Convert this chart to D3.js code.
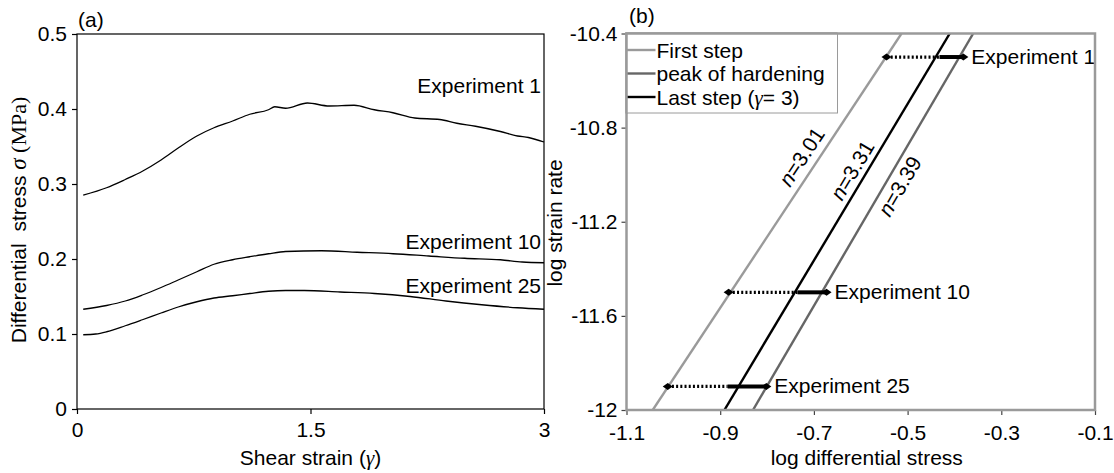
<!DOCTYPE html>
<html>
<head>
<meta charset="utf-8">
<script src="https://cdn.jsdelivr.net/npm/d3@7"></script>
<style>
  body { margin: 0; background: #fff; }
  text { font-family: 'Liberation Sans', Arial, sans-serif; }
</style>
</head>
<body>
<div class="chart"></div>
<script>
// (a) stress-strain curves
var exp1Strain = [0.04, 0.19, 0.31, 0.42, 0.54, 0.65, 0.77, 0.88, 1.0, 1.11, 1.23, 1.27, 1.34, 1.48, 1.62, 1.78, 1.91, 2.03, 2.17, 2.33, 2.44, 2.56, 2.72, 2.83, 2.9, 3.0]
var exp1Stress = [0.285, 0.295, 0.306, 0.317, 0.332, 0.348, 0.364, 0.375, 0.384, 0.393, 0.399, 0.403, 0.401, 0.408, 0.404, 0.405, 0.399, 0.395, 0.388, 0.386, 0.381, 0.377, 0.370, 0.364, 0.362, 0.356]
var exp10Strain = [0.04, 0.19, 0.31, 0.42, 0.54, 0.65, 0.77, 0.88, 1.0, 1.11, 1.23, 1.34, 1.57, 1.8, 2.03, 2.26, 2.49, 2.72, 2.86, 3.0]
var exp10Stress = [0.133, 0.138, 0.144, 0.152, 0.162, 0.172, 0.183, 0.193, 0.199, 0.203, 0.207, 0.21, 0.211, 0.209, 0.207, 0.204, 0.201, 0.199, 0.196, 0.195]
var exp25Strain = [0.04, 0.12, 0.19, 0.31, 0.42, 0.54, 0.65, 0.77, 0.88, 1.0, 1.11, 1.23, 1.34, 1.46, 1.69, 1.91, 2.14, 2.37, 2.6, 2.83, 3.0]
var exp25Stress = [0.099, 0.1, 0.103, 0.111, 0.119, 0.128, 0.136, 0.143, 0.148, 0.151, 0.154, 0.157, 0.158, 0.158, 0.156, 0.154, 0.15, 0.144, 0.139, 0.135, 0.133]
var expLabels = ['Experiment 1', 'Experiment 10', 'Experiment 25']
var strainTicks = [0, 1.5, 3]
var strainTickLabels = ['0', '1.5', '3']
var stressTicks = [0, 0.1, 0.2, 0.3, 0.4, 0.5]
var stressTickLabels = ['0', '0.1', '0.2', '0.3', '0.4', '0.5']

// (b) log strain rate vs log stress
var fitNames = ['First step', 'peak of hardening', 'Last step']
var fitN = ['3.01', '3.39', '3.31']
var fitStressTop = [-0.513, -0.360, -0.410]    // log stress at rate -10.4
var fitStressBottom = [-1.044, -0.830, -0.891] // log stress at rate -12
var expRate = [-10.5, -11.5, -11.9]
var expFirst = [-0.545, -0.882, -1.012]
var expLast = [-0.432, -0.735, -0.884]
var expPeak = [-0.381, -0.673, -0.8015]
var logStressTicks = [-1.1, -0.9, -0.7, -0.5, -0.3, -0.1]
var logStressTickLabels = ['-1.1', '-0.9', '-0.7', '-0.5', '-0.3', '-0.1']
var rateTicks = [-12, -11.6, -11.2, -10.8, -10.4]
var rateTickLabels = ['-12', '-11.6', '-11.2', '-10.8', '-10.4']

var fs = 21
var svg = d3
  .select('.chart')
  .append('svg')
  .attr('width', 1114)
  .attr('height', 473)
  .style('display', 'block')

// ---------- panel (a) ----------
var xA = d3.scaleLinear().domain([0, 3]).range([77, 544])
var yA = d3.scaleLinear().domain([0, 0.5]).range([409, 34])

svg
  .append('rect')
  .attr('x', xA(0))
  .attr('y', yA(0.5))
  .attr('width', xA(3) - xA(0))
  .attr('height', yA(0) - yA(0.5))
  .style('fill', 'none')
  .style('stroke', '#000')
  .style('stroke-width', 1.2)

var axA = svg
  .append('g')
  .attr('transform', 'translate(' + xA(0) + ',0)')
  .call(
    d3.axisLeft(yA)
      .tickValues(stressTicks)
      .tickSize(5)
      .tickPadding(5)
      .tickFormat(function(d, i) { return stressTickLabels[i] })
  )
var axB = svg
  .append('g')
  .attr('transform', 'translate(0,' + yA(0) + ')')
  .call(
    d3.axisBottom(xA)
      .tickValues(strainTicks)
      .tickSize(5)
      .tickPadding(8)
      .tickFormat(function(d, i) { return strainTickLabels[i] })
  )
;[axA, axB].forEach(function(ax) {
  ax.select('.domain').remove()
  ax.selectAll('line').style('stroke', '#000').style('stroke-width', 1.2)
  ax.selectAll('text')
    .style('font-size', fs + 'px')
    .style('font-family', "'Liberation Sans', Arial, sans-serif")
    .style('fill', '#000')
})

var lineA = d3
  .line()
  .curve(d3.curveMonotoneX)
  .x(function(d) { return xA(d[0]) })
  .y(function(d) { return yA(d[1]) })

var curves = [
  d3.zip(exp1Strain, exp1Stress),
  d3.zip(exp10Strain, exp10Stress),
  d3.zip(exp25Strain, exp25Stress)
]
curves.forEach(function(c) {
  svg
    .append('path')
    .datum(c)
    .attr('d', lineA)
    .style('fill', 'none')
    .style('stroke', '#000')
    .style('stroke-width', 1.3)
})

// curve labels, right aligned inside the frame
var labelStressA = [0.421, 0.213, 0.155]
expLabels.forEach(function(t, i) {
  svg
    .append('text')
    .attr('x', xA(3) - 3)
    .attr('y', yA(labelStressA[i]))
    .attr('text-anchor', 'end')
    .style('font-size', fs + 'px')
    .text(t)
})

svg
  .append('text')
  .attr('x', 78)
  .attr('y', 27)
  .style('font-size', fs + 'px')
  .text('(a)')

var xtA = svg
  .append('text')
  .attr('x', (xA(0) + xA(3)) / 2)
  .attr('y', 465)
  .attr('text-anchor', 'middle')
  .style('font-size', fs + 'px')
xtA.append('tspan').text('Shear strain (')
xtA.append('tspan')
  .style('font-family', "'Liberation Serif', 'Times New Roman', serif")
  .style('font-style', 'italic')
  .text('γ')
xtA.append('tspan').text(')')

var ytA = svg
  .append('text')
  .attr('transform', 'translate(26,' + 220 + ') rotate(-90)')
  .attr('text-anchor', 'middle')
  .style('font-size', fs + 'px')
ytA.append('tspan').text('Differential\u00a0\u00a0stress ')
ytA.append('tspan')
  .style('font-family', "'Liberation Serif', 'Times New Roman', serif")
  .style('font-style', 'italic')
  .style('font-size', '23px')
  .text('σ')
ytA.append('tspan')
  .style('font-family', "'Liberation Serif', 'Times New Roman', serif")
  .style('font-size', '22px')
  .text(' (MPa)')

// ---------- panel (b) ----------
var xB = d3.scaleLinear().domain([-1.1, -0.1]).range([626.5, 1095])
var yB = d3.scaleLinear().domain([-12, -10.4]).range([410, 33.5])

svg
  .append('defs')
  .append('clipPath')
  .attr('id', 'clipB')
  .append('rect')
  .attr('x', xB(-1.1))
  .attr('y', yB(-10.4))
  .attr('width', xB(-0.1) - xB(-1.1))
  .attr('height', yB(-12) - yB(-10.4))

var axL = svg
  .append('g')
  .attr('transform', 'translate(' + xB(-1.1) + ',0)')
  .call(
    d3.axisLeft(yB)
      .tickValues(rateTicks)
      .tickSize(5)
      .tickPadding(4)
      .tickFormat(function(d, i) { return rateTickLabels[i] })
  )
var axX = svg
  .append('g')
  .attr('transform', 'translate(0,' + yB(-12) + ')')
  .call(
    d3.axisBottom(xB)
      .tickValues(logStressTicks)
      .tickSize(5)
      .tickPadding(10)
      .tickFormat(function(d, i) { return logStressTickLabels[i] })
  )
;[axL, axX].forEach(function(ax) {
  ax.select('.domain').remove()
  ax.selectAll('line').style('stroke', '#444').style('stroke-width', 1.2)
  ax.selectAll('text')
    .style('font-size', fs + 'px')
    .style('font-family', "'Liberation Sans', Arial, sans-serif")
    .style('fill', '#000')
})

var fitColors = ['#9a9a9a', '#666', '#000']
var plotB = svg.append('g').attr('clip-path', 'url(#clipB)')
var lineB = d3
  .line()
  .x(function(d) { return xB(d[0]) })
  .y(function(d) { return yB(d[1]) })

fitNames.forEach(function(name, i) {
  plotB
    .append('path')
    .datum([[fitStressBottom[i], -12], [fitStressTop[i], -10.4]])
    .attr('d', lineB)
    .style('fill', 'none')
    .style('stroke', fitColors[i])
    .style('stroke-width', 2.4)
})

// experiment stress ranges
var diamond = 'M-5,0L0,-3.5L5,0L0,3.5Z'
expLabels.forEach(function(t, i) {
  var yy = yB(expRate[i])
  svg
    .append('line')
    .attr('x1', xB(expFirst[i]))
    .attr('x2', xB(expLast[i]))
    .attr('y1', yy)
    .attr('y2', yy)
    .style('stroke', '#000')
    .style('stroke-width', 3.2)
    .style('stroke-dasharray', '2,2.2')
  svg
    .append('line')
    .attr('x1', xB(expLast[i]))
    .attr('x2', xB(expPeak[i]))
    .attr('y1', yy)
    .attr('y2', yy)
    .style('stroke', '#000')
    .style('stroke-width', 4)
  ;[expFirst[i], expPeak[i]].forEach(function(v) {
    svg
      .append('path')
      .attr('d', diamond)
      .attr('transform', 'translate(' + xB(v) + ',' + yy + ')')
      .style('fill', '#000')
  })
  svg
    .append('text')
    .attr('x', xB(expPeak[i]) + 8)
    .attr('y', yy + 7)
    .style('font-size', fs + 'px')
    .text(t)
})

// slope labels along the fitted lines
var nLabelRate = [-10.96, -11.02, -11.01]
var nLabelDy = [-8, 21, -6]
fitNames.forEach(function(name, i) {
  var x0 = xB(fitStressBottom[i])
  var y0 = yB(-12)
  var x1 = xB(fitStressTop[i])
  var y1 = yB(-10.4)
  var ang = Math.atan2(y1 - y0, x1 - x0) * 180 / Math.PI
  var ly = yB(nLabelRate[i])
  var lx = x0 + (x1 - x0) * (ly - y0) / (y1 - y0)
  var t = svg
    .append('text')
    .attr('transform', 'translate(' + lx + ',' + ly + ') rotate(' + ang + ')')
    .attr('text-anchor', 'middle')
    .attr('dy', nLabelDy[i])
    .style('font-size', fs + 'px')
  t.append('tspan').style('font-style', 'italic').text('n')
  t.append('tspan').text('=' + fitN[i])
})

// frame on top
svg
  .append('rect')
  .attr('x', xB(-1.1))
  .attr('y', yB(-10.4))
  .attr('width', xB(-0.1) - xB(-1.1))
  .attr('height', yB(-12) - yB(-10.4))
  .style('fill', 'none')
  .style('stroke', '#9a9a9a')
  .style('stroke-width', 2.5)

// legend
var lg = svg.append('g').attr('transform', 'translate(' + xB(-1.1) + ',' + yB(-10.4) + ')')
lg.append('rect')
  .attr('width', 211)
  .attr('height', 79.5)
  .style('fill', '#fff')
  .style('stroke', '#9a9a9a')
  .style('stroke-width', 1)
var legendOrder = [0, 1, 2]
legendOrder.forEach(function(k, r) {
  var ry = 16.5 + r * 23.5
  lg.append('line')
    .attr('x1', 0)
    .attr('x2', 29)
    .attr('y1', ry)
    .attr('y2', ry)
    .style('stroke', fitColors[k])
    .style('stroke-width', 2.4)
  var t = lg.append('text')
    .attr('x', 30)
    .attr('y', ry + 7.5)
    .style('font-size', fs + 'px')
  if (k === 2) {
    t.append('tspan').text('Last step (')
    t.append('tspan')
      .style('font-family', "'Liberation Serif', 'Times New Roman', serif")
      .style('font-style', 'italic')
      .text('γ')
    t.append('tspan').text('= 3)')
  } else {
    t.text(fitNames[k])
  }
})
// re-draw frame edges over legend
svg
  .append('path')
  .attr('d', 'M' + (xB(-1.1) + 211) + ',' + yB(-10.4) + 'H' + xB(-1.1) + 'V' + (yB(-10.4) + 80))
  .style('fill', 'none')
  .style('stroke', '#9a9a9a')
  .style('stroke-width', 2.5)

svg
  .append('text')
  .attr('x', 629)
  .attr('y', 23)
  .style('font-size', fs + 'px')
  .text('(b)')

svg
  .append('text')
  .attr('x', (xB(-1.1) + xB(-0.1)) / 2 + 6)
  .attr('y', 465)
  .attr('text-anchor', 'middle')
  .style('font-size', fs + 'px')
  .text('log differential stress')

svg
  .append('text')
  .attr('transform', 'translate(562,223) rotate(-90)')
  .attr('text-anchor', 'middle')
  .style('font-size', fs + 'px')
  .text('log strain rate')
</script>
</body>
</html>
